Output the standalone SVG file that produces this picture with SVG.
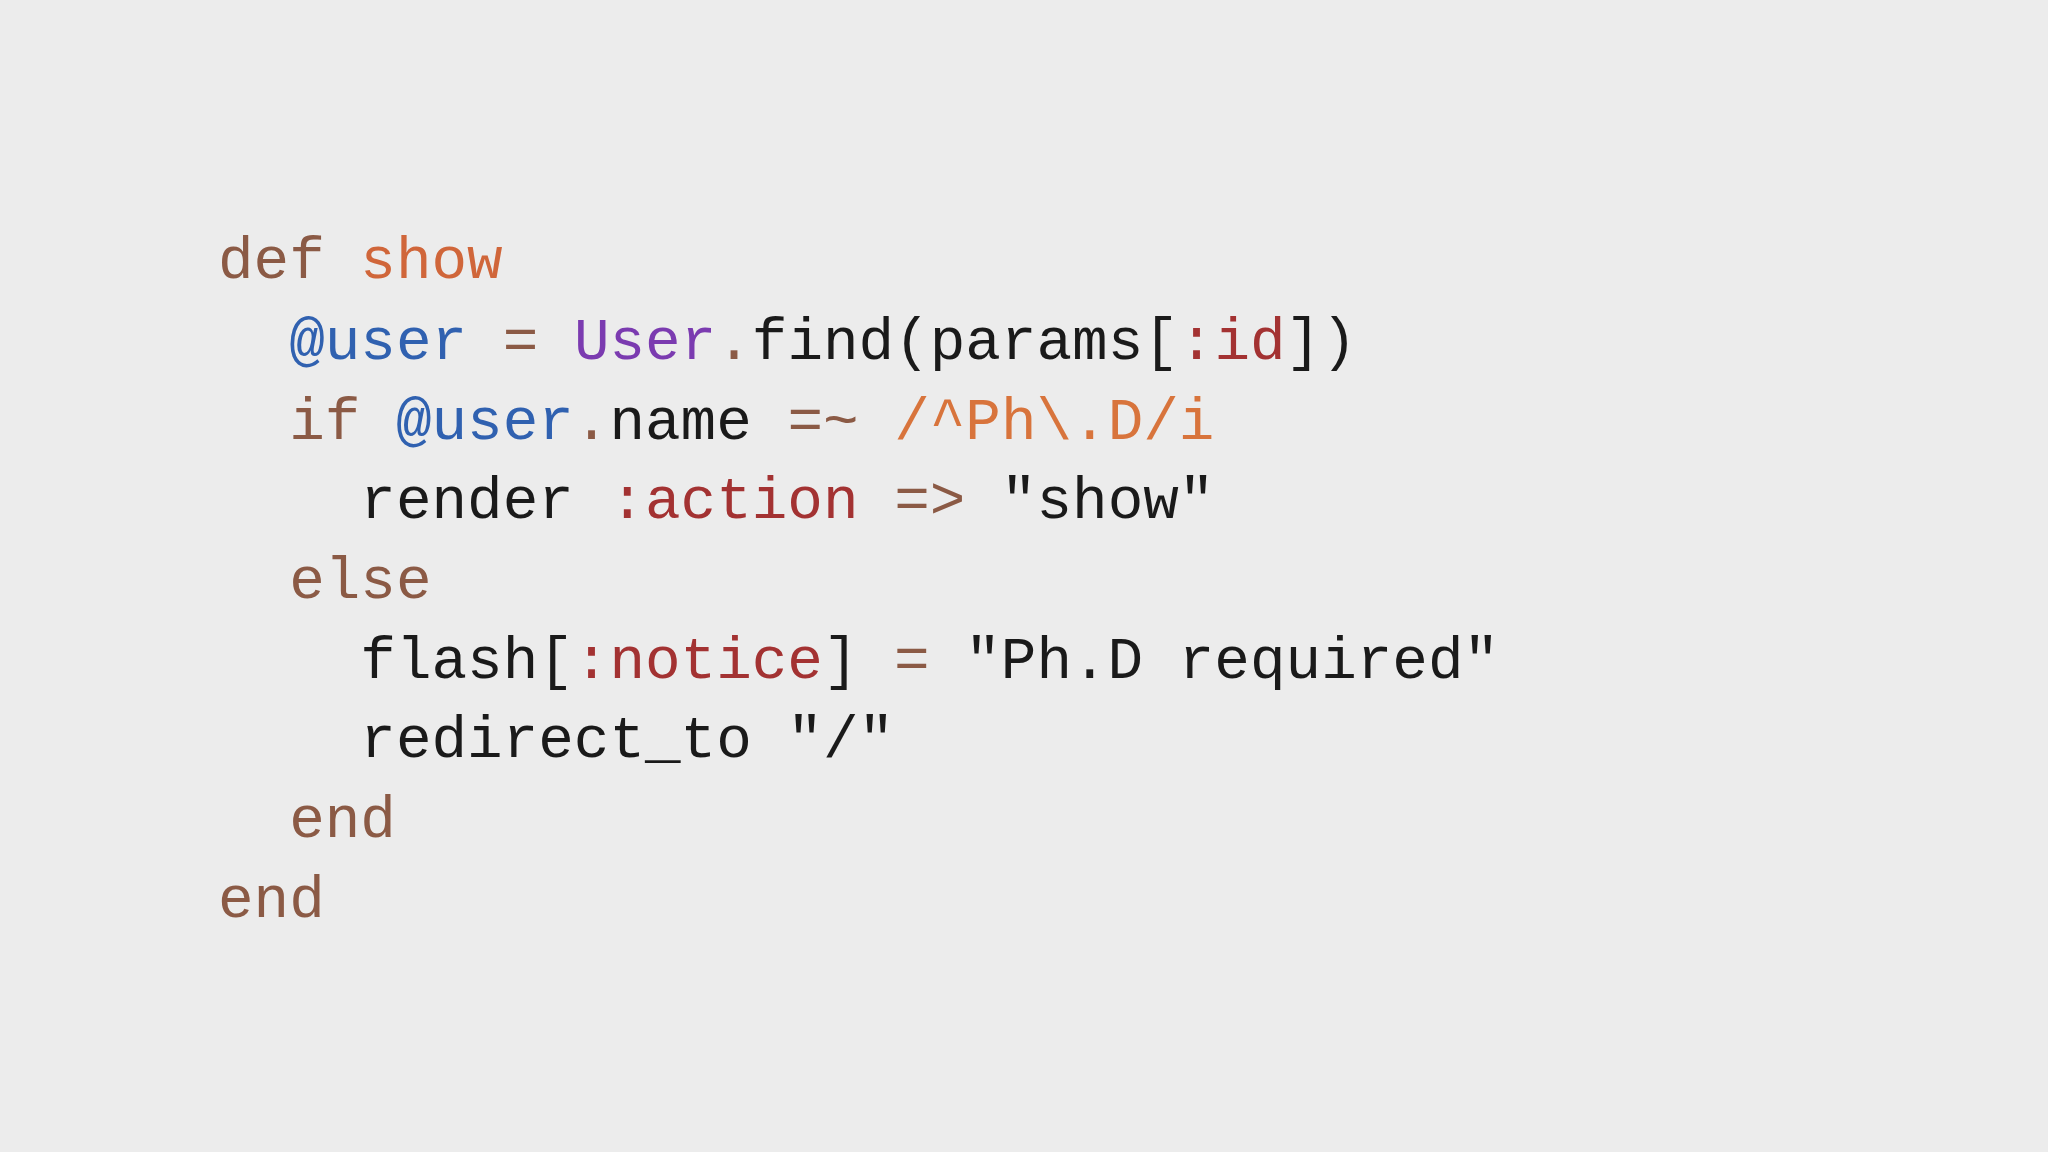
<svg xmlns="http://www.w3.org/2000/svg" width="2048" height="1152" viewBox="0 0 2048 1152">
<style>
text{font-family:"Liberation Mono","DejaVu Sans Mono",monospace;font-size:59.3px;fill:#1a1a1a;white-space:pre}
.k{fill:#8b5a45}.m{fill:#d0663a}.iv{fill:#3061b0}.c{fill:#7b3bb0}.s{fill:#a33232}.r{fill:#d8743c}.o{fill:#8b5a45}
</style>
<rect width="2048" height="1152" fill="#ececec"/>
<g id="code">
<text x="218" y="278" xml:space="preserve"><tspan class="k">def</tspan> <tspan class="m">show</tspan></text>
<text x="218" y="359" xml:space="preserve">  <tspan class="iv">@user</tspan> <tspan class="o">=</tspan> <tspan class="c">User</tspan><tspan class="o">.</tspan>find(params[<tspan class="s">:id</tspan>])</text>
<text x="218" y="439" xml:space="preserve">  <tspan class="k">if</tspan> <tspan class="iv">@user</tspan><tspan class="o">.</tspan>name <tspan class="o">=~</tspan> <tspan class="r">/^Ph\.D/i</tspan></text>
<text x="218" y="518" xml:space="preserve">    render <tspan class="s">:action</tspan> <tspan class="o">=&gt;</tspan> "show"</text>
<text x="218" y="598" xml:space="preserve">  <tspan class="k">else</tspan></text>
<text x="218" y="678" xml:space="preserve">    flash[<tspan class="s">:notice</tspan>] <tspan class="o">=</tspan> "Ph.D required"</text>
<text x="218" y="757" xml:space="preserve">    redirect_to "/"</text>
<text x="218" y="837" xml:space="preserve">  <tspan class="k">end</tspan></text>
<text x="218" y="917" xml:space="preserve"><tspan class="k">end</tspan></text>
</g>
</svg>
